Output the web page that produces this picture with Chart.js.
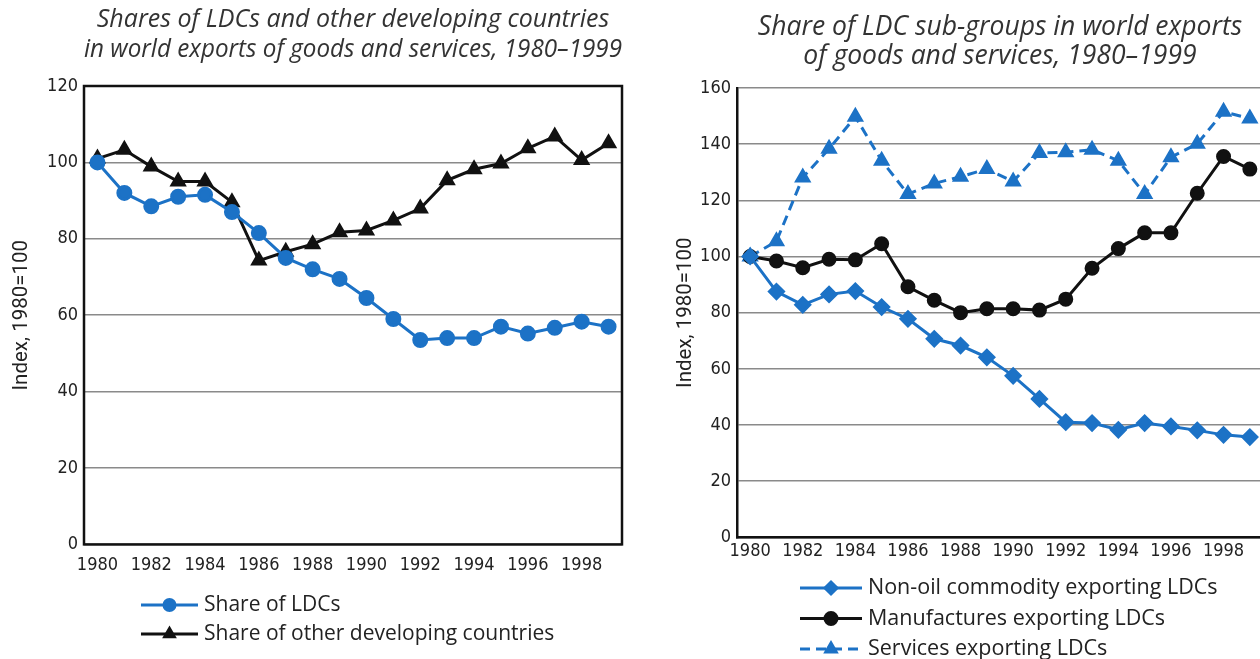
<!DOCTYPE html>
<html>
<head>
<meta charset="utf-8">
<script src="https://cdn.jsdelivr.net/npm/chart.js@4.4.1/dist/chart.umd.min.js"></script>
<style>
	html, body { margin: 0; padding: 0; background: #fff; overflow: hidden; }
	body { width: 1260px; height: 659px; position: relative; }
	.box { position: absolute; top: 0; height: 659px; }
	#left { left: 0; width: 660px; }
	#right { left: 660px; width: 620px; }
</style>
</head>
<body>
<div class="box" id="left"><canvas id="leftChart"></canvas></div>
<div class="box" id="right"><canvas id="rightChart"></canvas></div>
<script>
const years = ['1980', '1981', '1982', '1983', '1984', '1985', '1986', '1987', '1988', '1989',
	'1990', '1991', '1992', '1993', '1994', '1995', '1996', '1997', '1998', '1999'];
const xTickLabels = ['1980', '1982', '1984', '1986', '1988', '1990', '1992', '1994', '1996', '1998'];

// left panel
const shareLdc = [100, 92, 88.5, 91, 91.5, 87, 81.5, 75, 72, 69.5, 64.5, 59, 53.5, 54, 54, 57, 55.2, 56.7, 58.3, 57];
const shareOther = [101, 103.3, 98.9, 95, 95, 89.6, 74.3, 76.6, 78.6, 81.7, 82.2, 84.8, 87.9, 95.3, 98.2, 99.7, 103.7, 106.8, 100.6, 105];
const leftYTicks = [0, 20, 40, 60, 80, 100, 120];

// right panel
const nonOil = [100, 87.5, 82.8, 86.5, 87.7, 82, 77.8, 70.7, 68.3, 64.1, 57.5, 49.3, 41, 40.7, 38.3, 40.7, 39.5, 38.1, 36.5, 35.7];
const manufactures = [100, 98.4, 96, 99, 98.8, 104.5, 89.2, 84.4, 80, 81.4, 81.4, 80.9, 84.8, 95.8, 102.8, 108.4, 108.4, 122.5, 135.6, 131.1];
const services = [100, 105.4, 128.1, 138.3, 149.7, 134.1, 122.2, 126, 128.4, 131.1, 126.7, 136.8, 137.1, 138, 134.1, 122.2, 135.3, 140.1, 151.5, 149.1];
const rightYTicks = [0, 20, 40, 60, 80, 100, 120, 140, 160];

const BLUE = '#1c72c6';
const BLACK = '#111111';
const narrow = "'Liberation Sans Narrow', 'DejaVu Sans Condensed', sans-serif";

// draws the black box around the plot (left panel)
const framePlugin = {
	id: 'frame',
	beforeDatasetsDraw(chart, args, opts) {
		if (!opts.show) return;
		const a = chart.chartArea;
		const ctx = chart.ctx;
		ctx.save();
		ctx.strokeStyle = opts.color;
		ctx.lineWidth = opts.width;
		ctx.strokeRect(a.left, a.top, a.right - a.left, a.bottom - a.top);
		ctx.restore();
	}
};

// one legend entry per row, left aligned
const rowLegend = {
	id: 'rowLegend',
	afterDraw(chart, args, opts) {
		const ctx = chart.ctx;
		chart.data.datasets.forEach((ds, i) => {
			const y = opts.y + i * opts.rowGap;
			const x0 = opts.x;
			const x1 = opts.x + opts.sampleWidth;
			ctx.save();
			ctx.strokeStyle = ds.borderColor;
			ctx.lineWidth = ds.borderWidth;
			ctx.setLineDash(ds.borderDash || []);
			ctx.beginPath();
			ctx.moveTo(x0, y);
			ctx.lineTo(x1, y);
			ctx.stroke();
			ctx.setLineDash([]);
			ctx.fillStyle = ds.pointBackgroundColor;
			ctx.strokeStyle = ds.pointBorderColor;
			Chart.helpers.drawPoint(ctx, {
				pointStyle: ds.pointStyle,
				radius: opts.markerRadius,
				borderWidth: 1,
				rotation: 0
			}, (x0 + x1) / 2, y);
			ctx.fillStyle = opts.color;
			ctx.font = opts.font;
			ctx.textBaseline = 'middle';
			ctx.textAlign = 'left';
			ctx.fillText(ds.label, x1 + opts.textGap, y);
			ctx.restore();
		});
	}
};

function xScale(pad) {
	return {
		offset: true,
		grid: { display: false, drawTicks: false },
		border: { display: false },
		ticks: {
			autoSkip: false,
			maxRotation: 0,
			padding: pad,
			color: '#222',
			font: { family: narrow, size: 18 },
			callback: function (v) {
				const lab = this.getLabelForValue(v);
				return xTickLabels.includes(lab) ? lab : '';
			}
		}
	};
}

function yScale(ticks, width) {
	return {
		min: ticks[0],
		max: ticks[ticks.length - 1],
		afterBuildTicks(scale) {
			scale.ticks = ticks.map(v => ({ value: v }));
		},
		afterFit(scale) {
			scale.width = width;
		},
		grid: { color: '#8a8a8a', lineWidth: 1.5, drawTicks: false },
		border: { display: false },
		ticks: { color: '#222', padding: 6, font: { family: narrow, size: 18 } },
		title: {
			display: true,
			text: 'Index, 1980=100',
			color: '#222',
			font: { family: 'Roboto, sans-serif', size: 20.5 },
			padding: { top: 0, bottom: 3 }
		}
	};
}

// eslint-disable-next-line no-undef
new Chart(document.getElementById('leftChart').getContext('2d'), {
	type: 'line',
	data: {
		labels: years,
		datasets: [{
			label: 'Share of LDCs',
			data: shareLdc,
			borderColor: BLUE,
			borderWidth: 3,
			pointStyle: 'circle',
			pointRadius: 6.5,
			pointBackgroundColor: BLUE,
			pointBorderColor: BLUE,
			tension: 0
		}, {
			label: 'Share of other developing countries',
			data: shareOther,
			borderColor: BLACK,
			borderWidth: 3,
			pointStyle: 'triangle',
			pointRadius: 7,
			pointBackgroundColor: BLACK,
			pointBorderColor: BLACK,
			tension: 0
		}]
	},
	options: {
		responsive: true,
		maintainAspectRatio: false,
		animation: false,
		layout: { padding: { left: 10, right: 38, top: 0, bottom: 73 } },
		scales: {
			x: xScale(10),
			y: yScale(leftYTicks, 74)
		},
		plugins: {
			legend: { display: false },
			tooltip: { enabled: false },
			title: {
				display: true,
				fullSize: false,
				text: ['Shares of LDCs and other developing countries', 'in world exports of goods and services, 1980\u20131999'],
				color: '#333',
				font: { family: "'Open Sans', sans-serif", style: 'italic', weight: 'normal', size: 25, lineHeight: 1.2 },
				padding: { top: 5, bottom: 21 }
			},
			frame: { show: true, color: '#111', width: 2.5 },
			rowLegend: { x: 141, y: 605, rowGap: 29, sampleWidth: 57, textGap: 6, markerRadius: 5.5, color: '#222', font: "21px 'Open Sans', sans-serif" }
		}
	},
	plugins: [framePlugin, rowLegend]
});

// eslint-disable-next-line no-undef
new Chart(document.getElementById('rightChart').getContext('2d'), {
	type: 'line',
	data: {
		labels: years,
		datasets: [{
			label: 'Non-oil commodity exporting LDCs',
			data: nonOil,
			borderColor: BLUE,
			borderWidth: 3,
			pointStyle: 'rectRot',
			pointRadius: 7,
			pointBackgroundColor: BLUE,
			pointBorderColor: BLUE,
			tension: 0
		}, {
			label: 'Manufactures exporting LDCs',
			data: manufactures,
			borderColor: BLACK,
			borderWidth: 3,
			pointStyle: 'circle',
			pointRadius: 6,
			pointBackgroundColor: BLACK,
			pointBorderColor: BLACK,
			tension: 0
		}, {
			label: 'Services exporting LDCs',
			data: services,
			borderColor: BLUE,
			borderWidth: 3,
			borderDash: [10, 6],
			pointStyle: 'triangle',
			pointRadius: 7,
			pointBackgroundColor: BLUE,
			pointBorderColor: BLUE,
			tension: 0
		}]
	},
	options: {
		responsive: true,
		maintainAspectRatio: false,
		animation: false,
		layout: { padding: { left: 14, right: 17, top: 0, bottom: 94 } },
		scales: {
			x: Object.assign(xScale(3), { border: { display: true, color: '#111', width: 2.5 } }),
			y: Object.assign(yScale(rightYTicks, 63), { border: { display: true, color: '#111', width: 2.5 } })
		},
		plugins: {
			legend: { display: false },
			tooltip: { enabled: false },
			title: {
				display: true,
				fullSize: false,
				text: ['Share of LDC sub-groups in world exports', 'of goods and services, 1980\u20131999'],
				color: '#333',
				font: { family: "'Open Sans', sans-serif", style: 'italic', weight: 'normal', size: 26.5, lineHeight: 1.13 },
				padding: { top: 12, bottom: 16 }
			},
			frame: { show: false },
			rowLegend: { x: 140, y: 588, rowGap: 30.5, sampleWidth: 62, textGap: 6, markerRadius: 6, color: '#222', font: "21.5px 'Open Sans', sans-serif" }
		}
	},
	plugins: [framePlugin, rowLegend]
});
</script>
</body>
</html>
